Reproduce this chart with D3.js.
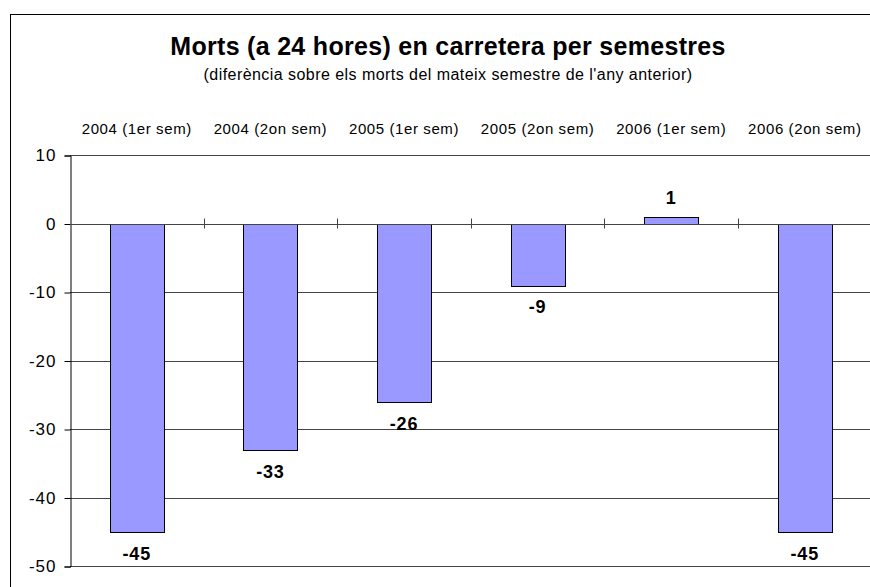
<!DOCTYPE html>
<html>
<head>
    <meta charset="utf-8">
    <title>Morts (a 24 hores) en carretera per semestres</title>
    <style>
        body { margin: 0; background: #fff; }
        text { font-family: 'Liberation Sans', Arial, sans-serif; }
    </style>
</head>
<body>

<script src="https://d3js.org/d3.v7.min.js"></script>
<script type="text/javascript">

// data
var semesters = ["2004 (1er sem)", "2004 (2on sem)", "2005 (1er sem)",
                 "2005 (2on sem)", "2006 (1er sem)", "2006 (2on sem)"];
var deaths = [-45, -33, -26, -9, 1, -45];
var yTicks = [10, 0, -10, -20, -30, -40, -50];

var svgW = 870, svgH = 587;
var plotLeft = 70, plotRight = 871.6, plotTop = 155, plotBottom = 566;

var x = d3.scaleBand()
    .domain(semesters)
    .range([plotLeft, plotRight])
    .paddingInner(0.595)
    .paddingOuter(0.2975);

var y = d3.scaleLinear().domain([-50, 10]).range([plotBottom, plotTop]);

var svg = d3.select("body")
    .append("svg")
    .attr("width", svgW)
    .attr("height", svgH);

// outer frame (runs off the right and bottom of the picture)
svg.append("rect")
    .attr("x", 10.5)
    .attr("y", 14.5)
    .attr("width", 900)
    .attr("height", 600)
    .attr("fill", "none")
    .attr("stroke", "#000")
    .attr("stroke-width", 1);

// title
svg.append("text")
    .attr("x", 448)
    .attr("y", 55)
    .attr("text-anchor", "middle")
    .attr("font-size", "25px")
    .attr("font-weight", "bold")
    .attr("letter-spacing", "0.3px")
    .text("Morts (a 24 hores) en carretera per semestres");

svg.append("text")
    .attr("x", 448)
    .attr("y", 80)
    .attr("text-anchor", "middle")
    .attr("font-size", "16px")
    .attr("letter-spacing", "0.45px")
    .text("(diferència sobre els morts del mateix semestre de l'any anterior)");

// gridlines
svg.append("g")
    .selectAll("line")
    .data(yTicks)
    .enter().append("line")
    .attr("x1", plotLeft)
    .attr("x2", plotRight)
    .attr("y1", function(d) { return Math.round(y(d)) + 0.5; })
    .attr("y2", function(d) { return Math.round(y(d)) + 0.5; })
    .attr("stroke", "#444")
    .attr("stroke-width", 1);

// left axis
var yAxis = svg.append("g")
    .attr("transform", "translate(" + (plotLeft + 0.5) + ",0.5)")
    .call(d3.axisLeft(y).tickValues(yTicks).tickSize(6).tickPadding(8)
        .tickFormat(function(d) { return String(d); }));
yAxis.select(".domain").attr("stroke", "#000");
yAxis.selectAll(".tick line").attr("stroke", "#000");
yAxis.selectAll(".tick text")
    .attr("font-family", "'Liberation Sans', Arial, sans-serif")
    .attr("font-size", "17px")
    .attr("letter-spacing", "1px")
    .attr("fill", "#000");

// bars
svg.append("g")
    .selectAll("rect")
    .data(deaths)
    .enter().append("rect")
    .attr("x", function(d, i) { return Math.round(x(semesters[i])) + 0.5; })
    .attr("y", function(d) { return Math.round(y(Math.max(0, d))) + 0.5; })
    .attr("width", Math.round(x.bandwidth()))
    .attr("height", function(d) { return Math.round(Math.abs(y(d) - y(0))); })
    .attr("fill", "#9999FF")
    .attr("stroke", "#000")
    .attr("stroke-width", 1);

// zero axis with category ticks
svg.append("line")
    .attr("x1", plotLeft)
    .attr("x2", plotRight)
    .attr("y1", Math.round(y(0)) + 0.5)
    .attr("y2", Math.round(y(0)) + 0.5)
    .attr("stroke", "#444");

var step = x.step();
svg.append("g")
    .selectAll("line")
    .data(semesters.slice(1))
    .enter().append("line")
    .attr("x1", function(d) { return Math.round(x(d) - x.paddingInner() * step / 2) + 0.5; })
    .attr("x2", function(d) { return Math.round(x(d) - x.paddingInner() * step / 2) + 0.5; })
    .attr("y1", y(0) - 5)
    .attr("y2", y(0) + 5)
    .attr("stroke", "#444");

// category labels above the plot
svg.append("g")
    .selectAll("text")
    .data(semesters)
    .enter().append("text")
    .attr("x", function(d) { return x(d) + x.bandwidth() / 2; })
    .attr("y", 134)
    .attr("text-anchor", "middle")
    .attr("font-size", "15px")
    .attr("letter-spacing", "0.6px")
    .text(function(d) { return d; });

// value labels
svg.append("g")
    .selectAll("text")
    .data(deaths)
    .enter().append("text")
    .attr("x", function(d, i) { return x(semesters[i]) + x.bandwidth() / 2; })
    .attr("y", function(d) { return d < 0 ? y(d) + 28 : y(d) - 13; })
    .attr("text-anchor", "middle")
    .attr("font-size", "18px")
    .attr("font-weight", "bold")
    .attr("letter-spacing", "0.8px")
    .text(function(d) { return d; });

</script>

</body>
</html>
